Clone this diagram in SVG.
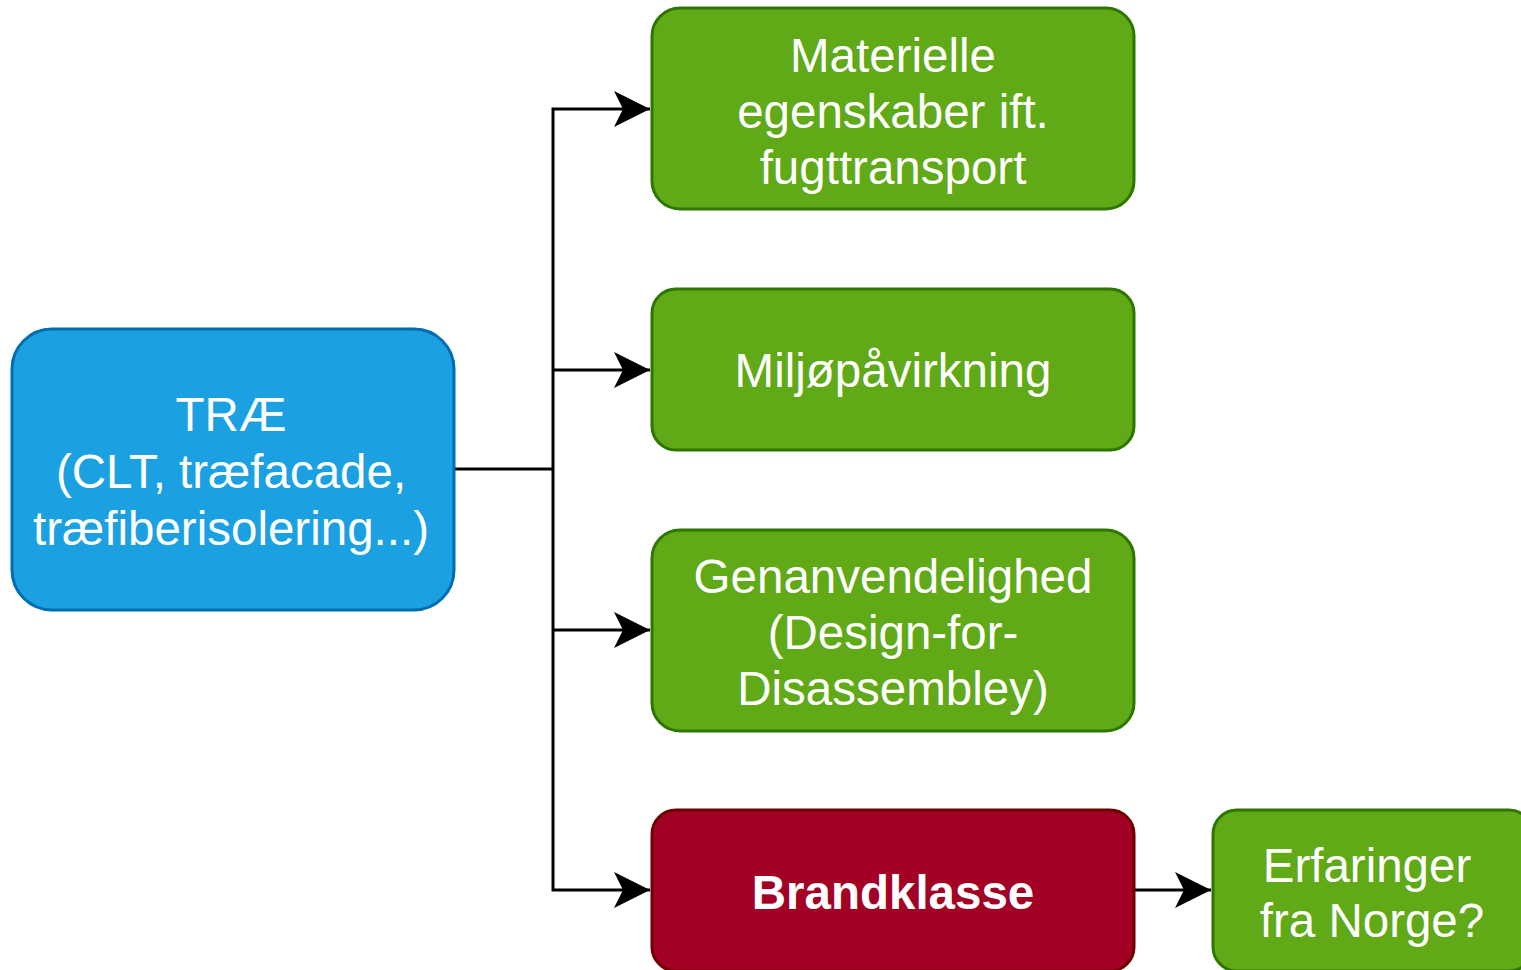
<svg xmlns="http://www.w3.org/2000/svg" width="1521" height="970" viewBox="0 0 1521 970">
<defs>
<style>
.t{font-family:"Liberation Sans",Arial,sans-serif;font-size:47.5px;fill:#ffffff;text-anchor:middle}
.b{font-weight:bold}
.g{fill:#60A917;stroke:#2D7600;stroke-width:3}
.bl{fill:#1BA1E2;stroke:#006EAF;stroke-width:3}
.r{fill:#A20025;stroke:#6F0000;stroke-width:3}
.e{fill:none;stroke:#000000;stroke-width:3}
</style>
<marker id="arr" markerUnits="userSpaceOnUse" markerWidth="40" markerHeight="40" viewBox="0 0 40 40" refX="36" refY="20" orient="auto">
<path d="M0,2 L36,20 L0,38 L9,20 Z" fill="#000000"/>
</marker>
</defs>
<rect width="1521" height="970" fill="#ffffff"/>
<g id="connectors">
<path class="e" d="M454,469 H553"/>
<path class="e" d="M553,469 V109 H650" marker-end="url(#arr)"/>
<path class="e" d="M553,370 H650" marker-end="url(#arr)"/>
<path class="e" d="M553,469 V890 H650" marker-end="url(#arr)"/>
<path class="e" d="M553,630 H650" marker-end="url(#arr)"/>
<path class="e" d="M1134,890 H1211" marker-end="url(#arr)"/>
</g>
<g id="node-trae">
<rect class="bl" x="12" y="329" width="442" height="281" rx="40"/>
<text class="t" x="231" y="431">TRÆ</text>
<text class="t" x="231" y="488">(CLT, træfacade,</text>
<text class="t" x="231" y="545">træfiberisolering...)</text>
</g>
<g id="node-materielle">
<rect class="g" x="652" y="8" width="482" height="201" rx="28"/>
<text class="t" x="893" y="72">Materielle</text>
<text class="t" x="893" y="128">egenskaber ift.</text>
<text class="t" x="893" y="184">fugttransport</text>
</g>
<g id="node-miljo">
<rect class="g" x="652" y="289" width="482" height="161" rx="24"/>
<text class="t" x="893" y="387">Miljøpåvirkning</text>
</g>
<g id="node-genanv">
<rect class="g" x="652" y="530" width="482" height="201" rx="28"/>
<text class="t" x="893" y="593">Genanvendelighed</text>
<text class="t" x="893" y="649">(Design-for-</text>
<text class="t" x="893" y="705">Disassembley)</text>
</g>
<g id="node-brand">
<rect class="r" x="652" y="810" width="482" height="161" rx="24"/>
<text class="t b" x="893" y="909">Brandklasse</text>
</g>
<g id="node-norge">
<rect class="g" x="1213" y="810" width="320" height="161" rx="24"/>
<text class="t" x="1367" y="882">Erfaringer</text>
<text class="t" x="1372" y="937">fra Norge?</text>
</g>
</svg>
